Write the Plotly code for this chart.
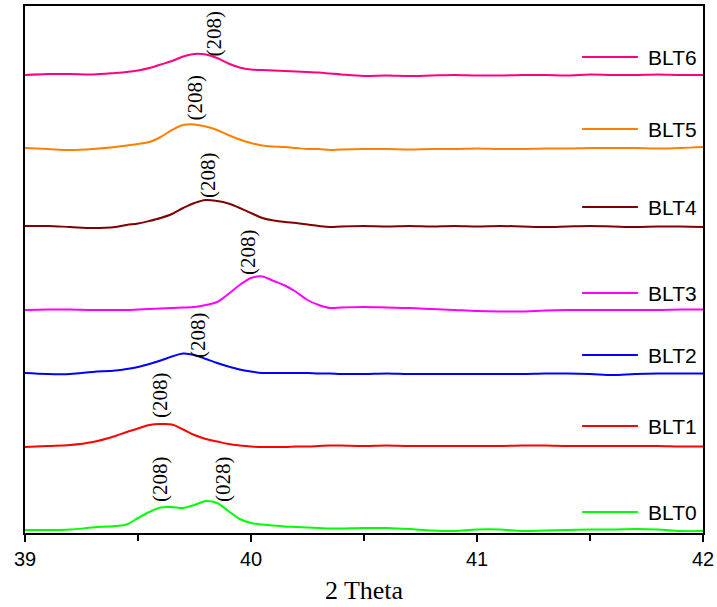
import plotly.graph_objects as go

# ---- data -------------------------------------------------------------
two_theta = [39.0, 39.1, 39.2, 39.3, 39.4, 39.45, 39.5, 39.55, 39.6, 39.65,
             39.7, 39.75, 39.8, 39.85, 39.9, 39.95, 40.0, 40.05, 40.1, 40.15,
             40.2, 40.25, 40.3, 40.35, 40.4, 40.5, 40.6, 40.7, 40.8, 40.9,
             41.0, 41.1, 41.2, 41.3, 41.4, 41.5, 41.6, 41.7, 41.8, 41.9, 42.0]

series_names = ["BLT0", "BLT1", "BLT2", "BLT3", "BLT4", "BLT5", "BLT6"]
offsets = [3, 86, 160, 223, 307, 385, 458]

blt0 = [0, 0, 0.5, 2.5, 4, 5.5, 12, 18, 22.5, 23, 22, 25, 29, 27, 19, 11, 7, 5.5, 4.5, 3.5,
        3, 2.5, 2, 1.5, 1.5, 2, 2, 1, -0.5, -1, 0.5, 0.5, -1, -0.5, 0, 0.5, 0.5, 1, 0.5, -1, -1]
blt1 = [0, 1, 2, 5, 11, 15, 18.5, 22, 23, 22.5, 17.5, 12, 8, 5.5, 3, 1.5, 0.5, 0, 0, 0,
        0.5, 0.5, 1, 1.5, 1.5, 1, 1.5, 1, 1, 1, 1, 1, 1.5, 1.5, 1, 1, 1, 1, 1, 0.5, 0.5]
blt2 = [0, -1, -1, 1, 2.5, 4, 6, 9, 12.5, 16.5, 19.5, 18, 14, 10, 6.5, 3.5, 1.5, 0, 0, 0,
        0, 0, -0.5, -0.5, -1, -1, -0.5, -1, -1, -1, -1, -1, -1, -0.5, -0.5, -1, -2, -1, -0.5, -0.5, -0.5]
blt3 = [0, 0.5, 0.5, 0, 0, 0, 0.5, 1, 1.5, 2, 2.5, 3, 5, 8, 16, 25, 32, 33.5, 29, 24.5,
        18, 10, 5, 2, 2.5, 3, 2.5, 2, 1, 0, -1, -1.5, -1.5, -0.5, 0, 0, 0, 0, 0, 0.5, 0.5]
blt4 = [0, 0, -1, -2, -1, 1, 2.5, 5, 8, 12, 18, 23, 26, 25, 22.5, 18, 13, 8, 5.5, 4,
        3, 1.5, 0, -1, -0.5, 0, -0.5, 0, -0.5, 0, -0.5, 0, -0.5, -1, -0.5, 0, -0.5, -1, -0.5, -0.5, -1]
blt5 = [0, -1, -2, -1, 1, 2.5, 4, 6, 11, 18, 23, 23.5, 21.5, 18, 13, 8.5, 5, 2.5, 1.5, 1,
        0, -1, -1, -2, -1.5, -1, -1, -1.5, -1, -1, -0.5, -1, -1, -0.5, -0.5, 0, 0, 0, -0.5, 0, 1]
blt6 = [0, 1, 1, 0.5, 2, 3, 4.5, 7, 10.5, 14, 18.5, 21, 20.5, 17, 11.5, 7.5, 5.5, 5, 4.5, 4,
        3.5, 3, 2.5, 1.5, 0.5, -1, -0.5, -1, -0.5, 0, -0.5, -0.5, 0, 0, -0.5, 0.5, 0, 0, 0.5, 0, 0]

intensities = [blt0, blt1, blt2, blt3, blt4, blt5, blt6]

colors = ["#00FF00", "#FF0000", "#0000FF", "#FF00FF", "#800000", "#FF8000", "#FF0080"]

# peak labels: (series index, text, x of label, y of label)
peak_labels = [
    (0, "(208)", 39.597, 54),
    (0, "(028)", 39.876, 54),
    (1, "(208)", 39.597, 138),
    (2, "(208)", 39.765, 198),
    (3, "(208)", 39.987, 281),
    (4, "(208)", 39.810, 358),
    (5, "(208)", 39.752, 435.5),
    (6, "(208)", 39.832, 499.5),
]

# legend rows (y of each row)
legend_y = [21, 107, 178, 240, 326, 404, 476]
legend_x0, legend_x1, legend_tx = 41.465, 41.712, 41.748

# ---- figure -----------------------------------------------------------
fig = go.Figure()
for name, off, vals, col in zip(series_names, offsets, intensities, colors):
    fig.add_trace(go.Scatter(
        x=two_theta, y=[v + off for v in vals], mode="lines", name=name,
        line=dict(color=col, width=2, shape="spline", smoothing=1.0),
        showlegend=False, hoverinfo="skip"))

annotations = []
for idx, txt, lx, ly in peak_labels:
    annotations.append(dict(
        x=lx, y=ly, xref="x", yref="y", text=txt, showarrow=False,
        textangle=-90, xanchor="center", yanchor="middle",
        font=dict(family="Liberation Serif, Times New Roman, serif", size=21, color="black")))

shapes = []
for name, ly, col in zip(series_names, legend_y, colors):
    shapes.append(dict(type="line", xref="x", yref="y", x0=legend_x0, x1=legend_x1,
                       y0=ly, y1=ly, line=dict(color=col, width=2)))
    annotations.append(dict(
        x=legend_tx, y=ly, xref="x", yref="y", text=name, showarrow=False,
        xanchor="left", yanchor="middle",
        font=dict(family="Liberation Sans, Arial, sans-serif", size=21, color="black")))

fig.update_layout(
    width=717, height=607,
    margin=dict(l=25, r=14, t=6, b=74, autoexpand=False),
    paper_bgcolor="white", plot_bgcolor="white",
    annotations=annotations, shapes=shapes,
    showlegend=False,
)
fig.update_xaxes(
    range=[39, 42], tickvals=[39, 40, 41, 42], ticktext=["39", "40", "41", "42"],
    ticks="outside", ticklen=7, tickwidth=1.5, tickcolor="black",
    minor=dict(dtick=0.5, tick0=39, ticks="outside", ticklen=6, tickwidth=1.5, tickcolor="black"),
    showline=True, linecolor="black", linewidth=2, mirror=True,
    showgrid=False, zeroline=False,
    tickfont=dict(family="Liberation Sans, Arial, sans-serif", size=20, color="black"),
    title=dict(text="2 Theta", standoff=12,
               font=dict(family="Liberation Serif, Times New Roman, serif", size=26, color="black")),
)
fig.update_yaxes(
    range=[0, 527], showticklabels=False, ticks="",
    showline=True, linecolor="black", linewidth=2, mirror=True,
    showgrid=False, zeroline=False,
)

fig.write_html("out.html", config={"displayModeBar": False},
               post_script="document.body.style.margin='0px';document.body.style.overflow='hidden';")
